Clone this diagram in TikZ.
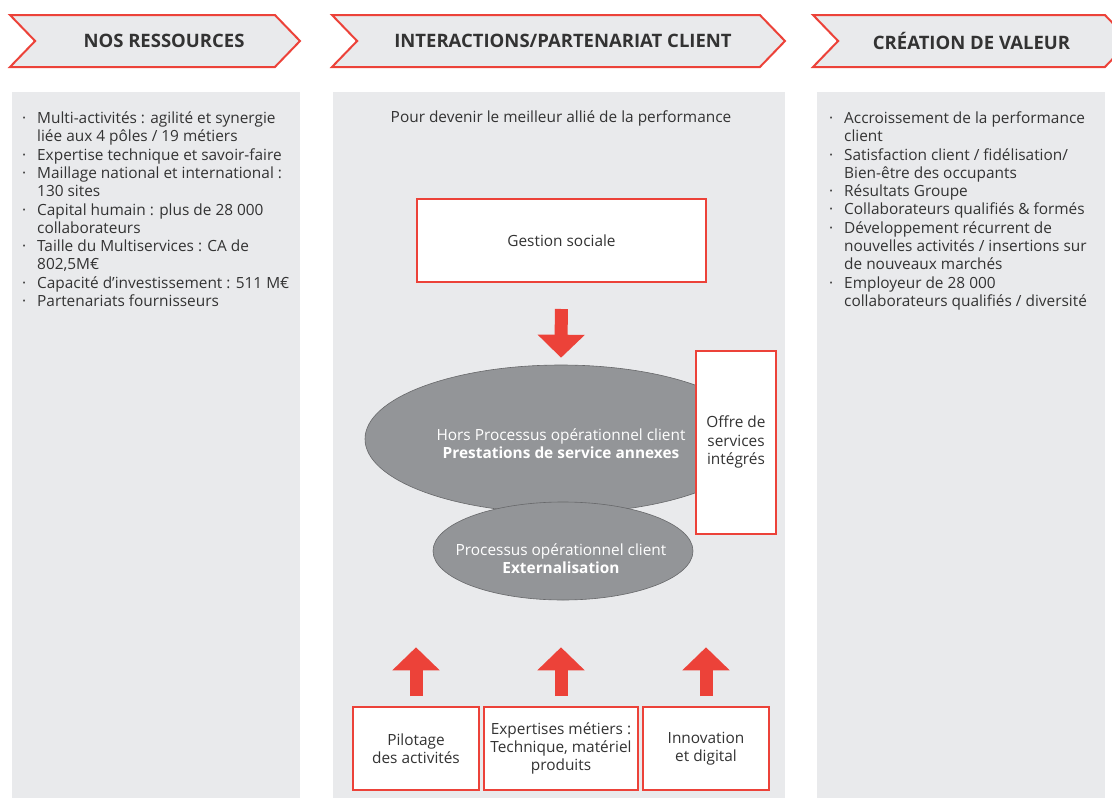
\documentclass[tikz,border=0pt]{standalone}
\usepackage{fontspec}
\setmainfont{Open Sans}
\usetikzlibrary{arrows.meta,shapes.geometric,shapes.symbols}
\definecolor{redline}{HTML}{EC4239}
\definecolor{panelgray}{HTML}{E9EAEC}
\definecolor{ovalgray}{HTML}{939598}
\definecolor{textgray}{HTML}{333333}
\newcommand{\itm}{\makebox[15pt][l]{·}}
\newcommand{\cnt}{\hspace*{15pt}}
\newcommand{\bodyfont}{\fontsize{15.4}{18.3}\selectfont}
\tikzset{
  panel/.style={draw=none,fill=panelgray,rectangle,inner sep=0pt},
  banner/.style={signal,signal to=east,signal from=west,signal pointer angle=92,
    draw=redline,line width=2pt,fill=panelgray,inner sep=0pt,minimum height=52pt,
    font=\fontsize{18.5}{21}\selectfont\bfseries,text=textgray},
  redbox/.style={rectangle,draw=redline,line width=2pt,fill=white,inner sep=0pt,
    align=center,font=\bodyfont,text=textgray},
  oval/.style={ellipse,draw=ovalgray!70!black,line width=0.6pt,fill=ovalgray,inner sep=0pt},
  ovaltext/.style={align=center,text=white,font=\bodyfont,inner sep=0pt},
  listtext/.style={anchor=north west,align=left,inner sep=0pt,text=textgray,font=\bodyfont},
  bigarrow/.style={line width=13pt,draw=redline,-{Triangle[length=23pt,width=46pt]}}
}
\begin{document}
\begin{tikzpicture}[x=1pt,y=-1pt]
\useasboundingbox (0,0) rectangle (1112,798);

% panels
\node (RP) at (156,446)[panel,minimum width=288pt,minimum height=708pt] {};
\node (IP) at (559,446)[panel,minimum width=452pt,minimum height=708pt] {};
\node (CP) at (961,446)[panel,minimum width=288pt,minimum height=708pt] {};

% banners
\node (RB) at (155,41)[banner,minimum width=290pt] {\hspace*{18pt}NOS RESSOURCES};
\node (IB) at (558.5,41)[banner,minimum width=453pt] {\hspace*{9pt}INTERACTIONS/PARTENARIAT CLIENT};
\node (CB) at (971.5,41)[banner,minimum width=317pt] {CRÉATION DE VALEUR};

% lists
\node (RL) at (22,111.5)[listtext] {\itm Multi-activités : agilité et synergie\\
\cnt liée aux 4 pôles / 19 métiers\\
\itm Expertise technique et savoir-faire\\
\itm Maillage national et international :\\
\cnt 130 sites\\
\itm Capital humain : plus de 28 000\\
\cnt collaborateurs\\
\itm Taille du Multiservices : CA de\\
\cnt 802,5M€\\
\itm Capacité d’investissement : 511 M€\\
\itm Partenariats fournisseurs};
\node (CL) at (829,111.5)[listtext] {\itm Accroissement de la performance\\
\cnt client\\
\itm Satisfaction client / fidélisation/\\
\cnt Bien-être des occupants\\
\itm Résultats Groupe\\
\itm Collaborateurs qualifiés \& formés\\
\itm Développement récurrent de\\
\cnt nouvelles activités / insertions sur\\
\cnt de nouveaux marchés\\
\itm Employeur de 28 000\\
\cnt collaborateurs qualifiés / diversité};
\node (IT) at (561,118)[text=textgray,font=\bodyfont] {Pour devenir le meilleur allié de la performance};

% centre
\node (G) at (561.5,240.5)[redbox,minimum width=289pt,minimum height=83pt] {Gestion sociale};
\node (HP) at (561,439)[oval,minimum width=392pt,minimum height=148pt] {};
\node (HPt) at (561,444)[ovaltext] {Hors Processus opérationnel client\\ \textbf{Prestations de service annexes}};
\node (PO) at (563,551)[oval,minimum width=260pt,minimum height=98pt] {};
\node (POt) at (561,559)[ovaltext] {Processus opérationnel client\\ \textbf{Externalisation}};
\node (OS) at (736,442)[redbox,minimum width=80pt,minimum height=183pt] {Offre de\\ services\\ intégrés};

\node (P1) at (416,748.5)[redbox,minimum width=126pt,minimum height=83pt] {Pilotage\\ des activités};
\node (P2) at (561,748.5)[redbox,minimum width=154pt,minimum height=83pt] {Expertises métiers :\\ Technique, matériel\\ produits};
\node (P3) at (706,748.5)[redbox,minimum width=126pt,minimum height=83pt] {Innovation\\ et digital};

\draw [bigarrow,shorten <=26pt,shorten >=7pt] (G.south) -- (HP.north);
\draw [bigarrow,shorten <=10pt,shorten >=47pt] (P1.north) -- (P1.north |- PO.south);
\draw [bigarrow,shorten <=10pt,shorten >=47pt] (P2.north) -- (P2.north |- PO.south);
\draw [bigarrow,shorten <=10pt,shorten >=47pt] (P3.north) -- (P3.north |- PO.south);
\end{tikzpicture}
\end{document}
